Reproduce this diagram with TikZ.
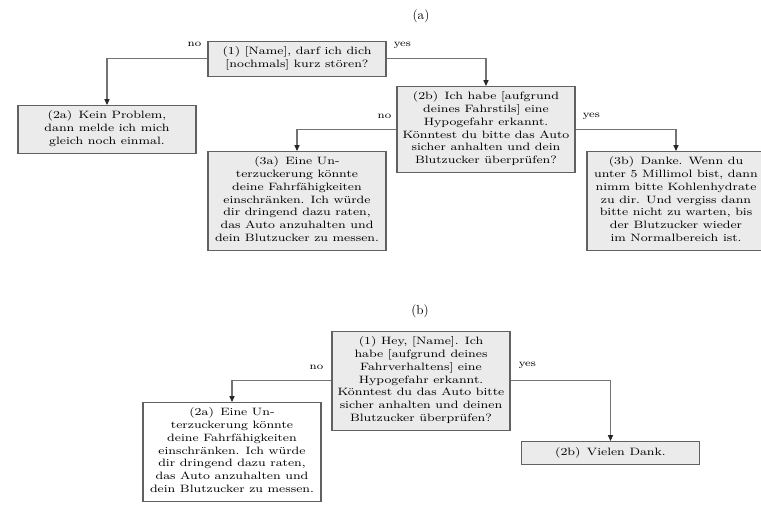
\documentclass[tikz,border=0pt]{standalone}
\usepackage{fontspec}
\setmainfont{lmroman10-regular.otf}
\newfontfamily\bxf{lmroman8-regular.otf}[FakeStretch=1.22]
\usetikzlibrary{arrows.meta}
\tikzset{
  box/.style={draw=black!62, fill=black!8, line width=0.8pt, align=center,
    minimum width=133.5pt, inner xsep=2pt, inner ysep=3.8pt,
    font=\bxf\fontsize{8}{9.6}\selectfont,
    execute at begin node=\strut, execute at end node=\strut},
  wbox/.style={box, fill=white},
  conn/.style={draw=black!55, line width=0.8pt,
    -{Triangle[width=3.8pt,length=4.4pt,color=black!85]}},
  lbl/.style={inner sep=0pt, font=\bxf\fontsize{7.4}{8.5}\selectfont},
  captext/.style={inner sep=0pt, font=\fontsize{9.8}{11}\selectfont}
}
\begin{document}
\begin{tikzpicture}[x=0.75pt,y=-0.75pt]
\useasboundingbox (0,0) rectangle (761,508);
% ---------- (a) ----------
\node[captext] (capa) at (421,16) {(a)};
\node[box, anchor=north] (a1) at (297,41)
  {(1) [Name], darf ich dich\\{}[nochmals] kurz stören?};
\node[box, anchor=north] (a2a) at (107,105)
  {(2a)\hspace{0.6em}Kein Problem,\\ dann melde ich mich\\ gleich noch einmal.};
\node[box, anchor=north] (a2b) at (486,86)
  {(2b)\hspace{0.6em}Ich habe [aufgrund\\ deines Fahrstils] eine\\ Hypogefahr erkannt.\\ Könntest du bitte das Auto\\ sicher anhalten und dein\\ Blutzucker überprüfen?};
\node[box, anchor=north] (a3a) at (297,151)
  {(3a)\hspace{0.6em}Eine Un-\\ terzuckerung könnte\\ deine Fahrfähigkeiten\\ einschränken. Ich würde\\ dir dringend dazu raten,\\ das Auto anzuhalten und\\ dein Blutzucker zu messen.};
\node[box, anchor=north] (a3b) at (676,151)
  {(3b)\hspace{0.6em}Danke. Wenn du\\ unter 5 Millimol bist, dann\\ nimm bitte Kohlenhydrate\\ zu dir. Und vergiss dann\\ bitte nicht zu warten, bis\\ der Blutzucker wieder\\ im Normalbereich ist.};
\draw[conn] (a1.west) -| (a2a.north);
\draw[conn] (a1.east) -| (a2b.north);
\draw[conn] (a2b.west) -| (a3a.north);
\draw[conn] (a2b.east) -| (a3b.north);
\node[lbl, anchor=base east] (na1) at ([shift={(-6,-12)}]a1.west) {no};
\node[lbl, anchor=base west] (ya1) at ([shift={(7,-12)}]a1.east) {yes};
\node[lbl, anchor=base east] (na2) at ([shift={(-5,-11)}]a2b.west) {no};
\node[lbl, anchor=base west] (ya2) at ([shift={(7,-12)}]a2b.east) {yes};
% ---------- (b) ----------
\node[captext] (capb) at (420,311) {(b)};
\node[box, anchor=north] (b1) at (421,331)
  {(1) Hey, [Name]. Ich\\ habe [aufgrund deines\\ Fahrverhaltens] eine\\ Hypogefahr erkannt.\\ Könntest du das Auto bitte\\ sicher anhalten und deinen\\ Blutzucker überprüfen?};
\node[wbox, anchor=north] (b2a) at (232,402)
  {(2a)\hspace{0.6em}Eine Un-\\ terzuckerung könnte\\ deine Fahrfähigkeiten\\ einschränken. Ich würde\\ dir dringend dazu raten,\\ das Auto anzuhalten und\\ dein Blutzucker zu messen.};
\node[box, anchor=north] (b2b) at (610.5,441)
  {(2b)\hspace{0.6em}Vielen Dank.};
\draw[conn] (b1.west) -| (b2a.north);
\draw[conn] (b1.east) -| (b2b.north);
\node[lbl, anchor=base east] (nb1) at ([shift={(-8,-11)}]b1.west) {no};
\node[lbl, anchor=base west] (yb1) at ([shift={(8,-14)}]b1.east) {yes};
\end{tikzpicture}
\end{document}
